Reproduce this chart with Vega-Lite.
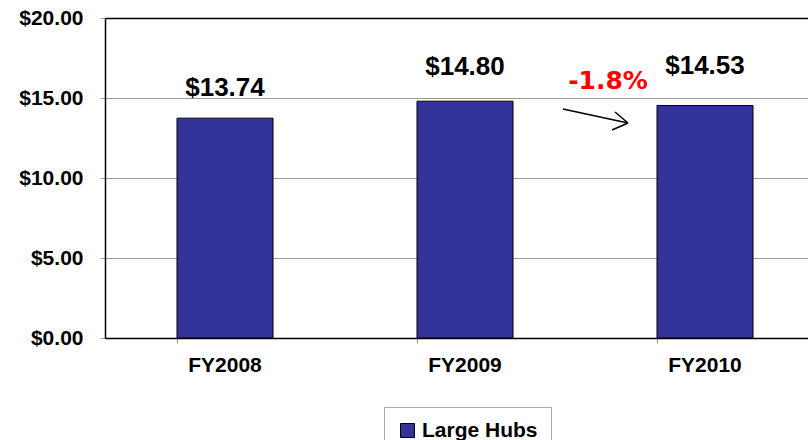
{
  "$schema": "https://vega.github.io/schema/vega-lite/v6.json",
  "width": 703,
  "height": 320,
  "autosize": {"type": "none"},
  "padding": {"left": 105, "top": 18, "right": 0, "bottom": 102},
  "background": "white",
  "config": {
    "view": {"stroke": null},
    "font": "Liberation Sans"
  },
  "datasets": {
    "bars": [
      {"year": "FY2008", "value": 13.74, "series": "Large Hubs"},
      {"year": "FY2009", "value": 14.80, "series": "Large Hubs"},
      {"year": "FY2010", "value": 14.53, "series": "Large Hubs"}
    ],
    "arrow": [
      {"x1": 1.908, "y1": 14.31, "x2": 2.179, "y2": 13.44},
      {"x1": 2.125, "y1": 14.125, "x2": 2.179, "y2": 13.44},
      {"x1": 2.1125, "y1": 13.0, "x2": 2.179, "y2": 13.44}
    ],
    "note": [
      {"x": 2.096, "y": 16.06, "label": "-1.8%"}
    ]
  },
  "layer": [
    {
      "data": {"name": "bars"},
      "encoding": {
        "x": {
          "field": "year", "type": "nominal", "title": null,
          "scale": {"paddingInner": 0.6, "paddingOuter": 0.3, "range": [0, 720]},
          "axis": {
            "labelAngle": 0, "labelFont": "Liberation Sans", "labelFontWeight": "bold",
            "labelFontSize": 21, "labelColor": "black", "labelPadding": 11,
            "domainColor": "black", "domainWidth": 1.5,
            "tickColor": "#999999", "tickSize": 5, "bandPosition": 0
          }
        },
        "y": {
          "field": "value", "type": "quantitative", "title": null,
          "scale": {"domain": [0, 20], "nice": false},
          "axis": {
            "values": [0, 5, 10, 15, 20], "format": "$.2f",
            "labelFont": "Liberation Sans", "labelFontWeight": "bold",
            "labelFontSize": 21, "labelColor": "black", "labelPadding": 17,
            "domainColor": "black", "domainWidth": 1.5,
            "tickColor": "#999999", "tickSize": 5,
            "grid": true,
            "gridColor": {"condition": {"test": "datum.value == 20", "value": "black"}, "value": "#999999"},
            "gridWidth": {"condition": {"test": "datum.value == 20", "value": 1.5}, "value": 1}
          }
        }
      },
      "layer": [
        {
          "mark": {"type": "bar", "stroke": "black", "strokeWidth": 1},
          "encoding": {
            "color": {
              "field": "series", "type": "nominal", "title": null,
              "scale": {"range": ["#333399"]},
              "legend": {
                "orient": "none", "legendX": 279, "legendY": 389,
                "symbolType": "square", "symbolSize": 196,
                "symbolStrokeColor": "black", "symbolStrokeWidth": 1,
                "labelFont": "Liberation Sans", "labelFontWeight": "bold",
                "labelFontSize": 21, "labelColor": "black", "labelOffset": 4,
                "padding": 13, "strokeColor": "#aaaaaa", "fillColor": "white"
              }
            }
          }
        },
        {
          "transform": [{"filter": "datum.year == 'FY2008'"}],
          "mark": {"type": "text", "font": "Liberation Sans", "fontWeight": "bold", "fontSize": 26, "baseline": "middle", "dy": -30, "color": "black"},
          "encoding": {
            "text": {"field": "value", "type": "quantitative", "format": "$.2f"}
          }
        },
        {
          "transform": [{"filter": "datum.year == 'FY2009'"}],
          "mark": {"type": "text", "font": "Liberation Sans", "fontWeight": "bold", "fontSize": 26, "baseline": "middle", "dy": -34, "color": "black"},
          "encoding": {
            "text": {"field": "value", "type": "quantitative", "format": "$.2f"}
          }
        },
        {
          "transform": [{"filter": "datum.year == 'FY2010'"}],
          "mark": {"type": "text", "font": "Liberation Sans", "fontWeight": "bold", "fontSize": 26, "baseline": "middle", "dy": -40, "color": "black"},
          "encoding": {
            "text": {"field": "value", "type": "quantitative", "format": "$.2f"}
          }
        }
      ],
      "resolve": {"scale": {"x": "shared"}}
    },
    {
      "layer": [
        {
          "data": {"name": "arrow"},
          "mark": {"type": "rule", "color": "black", "strokeWidth": 1.5},
          "encoding": {
            "x": {"field": "x1", "type": "quantitative", "scale": {"domain": [0, 3], "range": [0, 720], "nice": false, "zero": false}, "axis": null},
            "x2": {"field": "x2"},
            "y": {"field": "y1", "type": "quantitative"},
            "y2": {"field": "y2"}
          }
        },
        {
          "data": {"name": "note"},
          "mark": {"type": "text", "font": "DejaVu Sans", "fontWeight": "bold", "fontSize": 25, "color": "#ff0000", "baseline": "middle", "align": "center"},
          "encoding": {
            "x": {"field": "x", "type": "quantitative", "scale": {"domain": [0, 3], "range": [0, 720], "nice": false, "zero": false}, "axis": null},
            "y": {"field": "y", "type": "quantitative"},
            "text": {"field": "label"}
          }
        }
      ],
      "resolve": {"scale": {"x": "shared"}}
    }
  ],
  "resolve": {"scale": {"x": "independent"}}
}
